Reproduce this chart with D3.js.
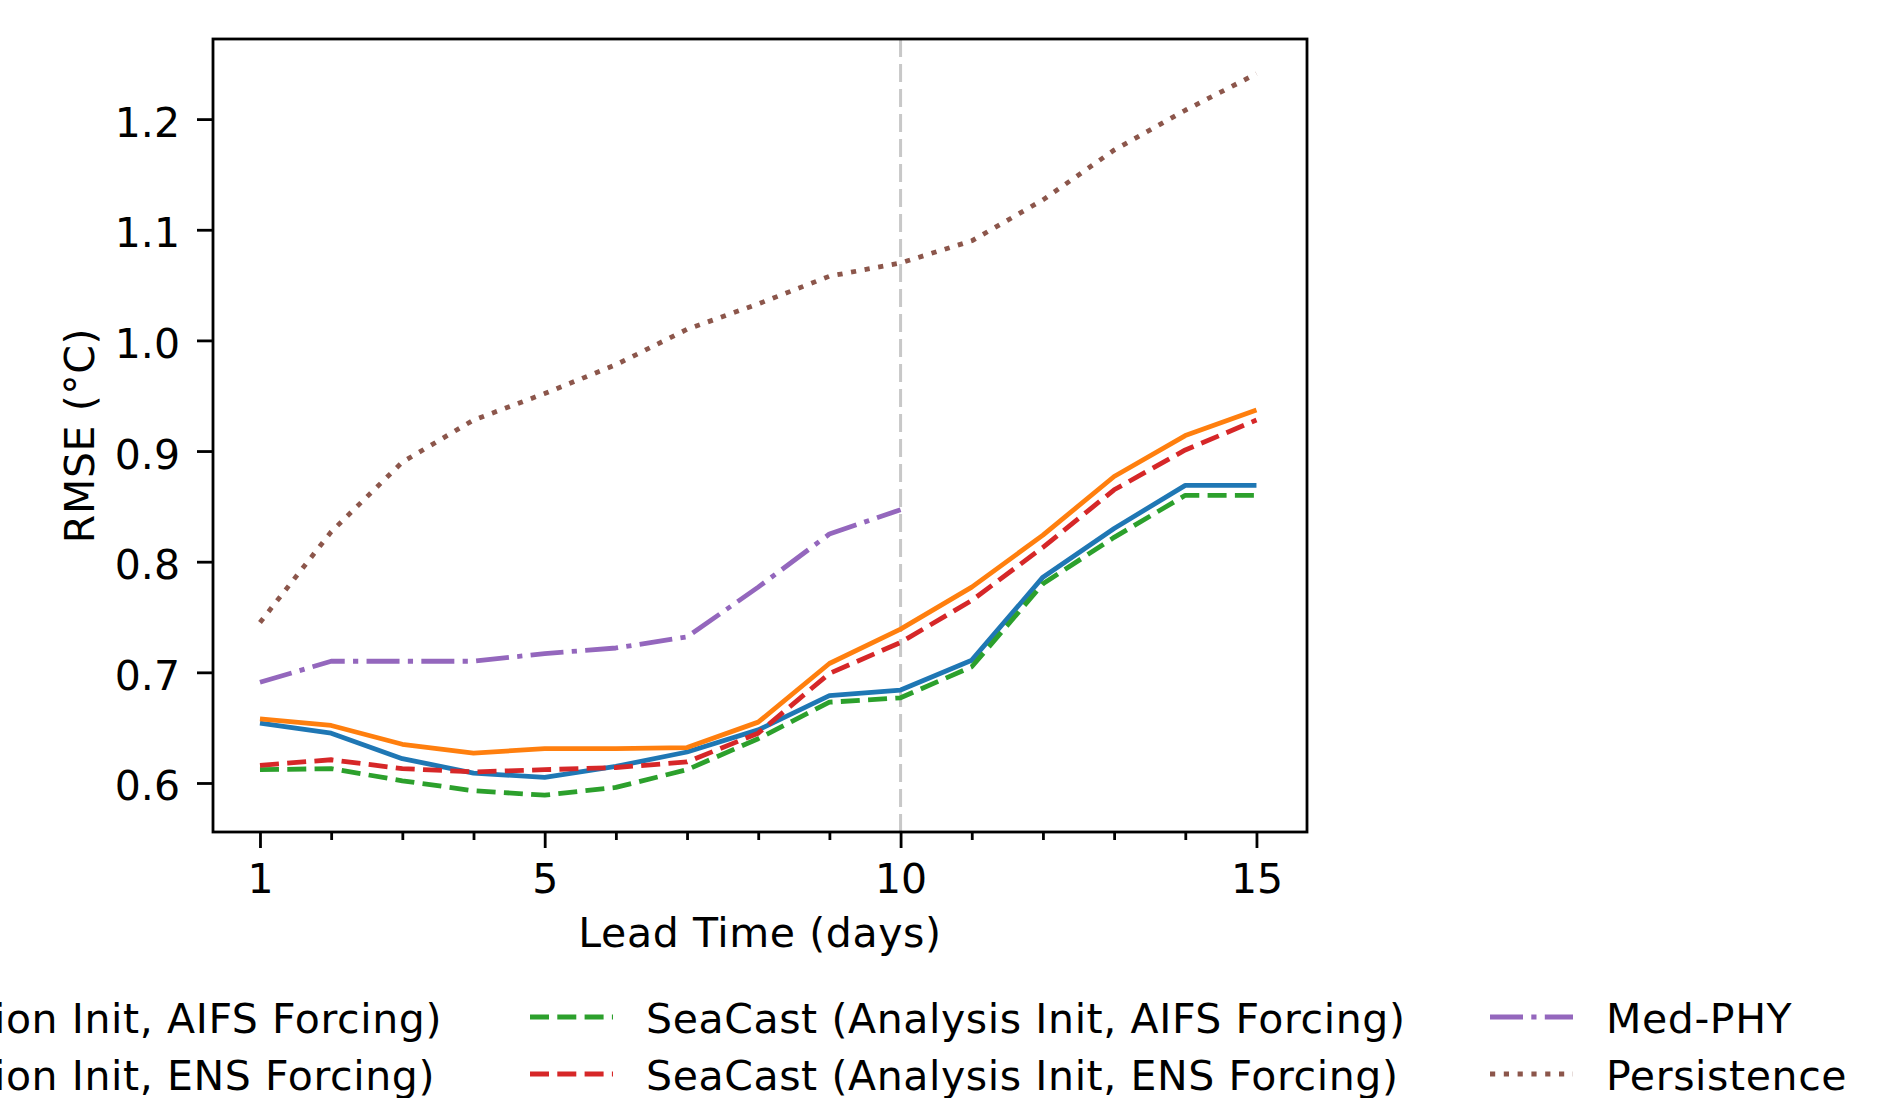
<!DOCTYPE html>
<html>
<head>
<meta charset="utf-8">
<script src="https://cdn.jsdelivr.net/npm/d3@7"></script>
<style>
  body { margin: 0; background: #fff; }
  svg text { font-family: "DejaVu Sans", sans-serif; fill: #000; }
  svg text.label, .legend text { letter-spacing: 0.6px; }
</style>
</head>
<body>
<svg id="chart" width="1890" height="1098"></svg>
<script>
// lead time (days)
var days = [1, 2, 3, 4, 5, 6, 7, 8, 9, 10, 11, 12, 13, 14, 15];

// RMSE (°C) per lead day
var simAifs      = [0.654, 0.645, 0.622, 0.609, 0.605, 0.615, 0.628, 0.648, 0.679, 0.684, 0.711, 0.786, 0.830, 0.869, 0.869];
var simEns       = [0.658, 0.652, 0.635, 0.627, 0.631, 0.631, 0.632, 0.655, 0.708, 0.739, 0.777, 0.824, 0.877, 0.914, 0.937];
var analysisAifs = [0.612, 0.613, 0.602, 0.593, 0.589, 0.596, 0.612, 0.640, 0.673, 0.677, 0.705, 0.780, 0.822, 0.860, 0.860];
var analysisEns  = [0.616, 0.621, 0.613, 0.610, 0.612, 0.614, 0.619, 0.645, 0.699, 0.727, 0.765, 0.813, 0.865, 0.901, 0.928];
var medPhy       = [0.691, 0.710, 0.710, 0.710, 0.717, 0.722, 0.732, 0.777, 0.825, 0.847];
var persistence  = [0.745, 0.827, 0.890, 0.928, 0.952, 0.978, 1.010, 1.033, 1.058, 1.070, 1.090, 1.127, 1.172, 1.208, 1.241];

var seriesNames = [
    "SeaCast (Simulation Init, AIFS Forcing)",
    "SeaCast (Simulation Init, ENS Forcing)",
    "SeaCast (Analysis Init, AIFS Forcing)",
    "SeaCast (Analysis Init, ENS Forcing)",
    "Med-PHY",
    "Persistence"
];

var yTicks = [0.6, 0.7, 0.8, 0.9, 1.0, 1.1, 1.2];
var xMajorTicks = [1, 5, 10, 15];
var splitDay = 10;

var lw = 4.8;
var series = [
    { name: seriesNames[0], values: simAifs,      color: '#1f77b4', dash: null },
    { name: seriesNames[1], values: simEns,       color: '#ff7f0e', dash: null },
    { name: seriesNames[2], values: analysisAifs, color: '#2ca02c', dash: '19,8.3' },
    { name: seriesNames[3], values: analysisEns,  color: '#d62728', dash: '19,8.3' },
    { name: seriesNames[4], values: medPhy,       color: '#9467bd', dash: '33,8.3,5.2,8.3' },
    { name: seriesNames[5], values: persistence,  color: '#8c564b', dash: '5.2,8.6' }
];

var margin = { top: 39, right: 583, bottom: 266, left: 213 },
    width = 1890 - margin.left - margin.right,
    height = 1098 - margin.top - margin.bottom,
    fontSize = 41;

var svg = d3.select('#chart');
var vis = svg.append('g')
    .attr('transform', 'translate(' + margin.left + ',' + margin.top + ')');

var x = d3.scaleLinear().domain([0.34, 15.71]).range([0, width]);
var y = d3.scaleLinear().domain([0.5557, 1.2724]).range([height, 0]);

// grey marker at day 10
vis.append('line')
    .attr('x1', x(splitDay)).attr('x2', x(splitDay))
    .attr('y1', 0).attr('y2', height)
    .attr('stroke', '#c8c8c8')
    .attr('stroke-width', 3)
    .attr('stroke-dasharray', '18,7');

var line = d3.line()
    .x(function(d, i) { return x(days[i]); })
    .y(function(d) { return y(d); });

vis.selectAll('path.series')
    .data(series)
  .enter().append('path')
    .attr('class', 'series')
    .attr('fill', 'none')
    .attr('stroke', function(s) { return s.color; })
    .attr('stroke-width', lw)
    .attr('stroke-linejoin', 'round')
    .attr('stroke-dasharray', function(s) { return s.dash; })
    .attr('d', function(s) { return line(s.values); });

// axes
var yAxis = vis.append('g')
    .call(d3.axisLeft(y).tickValues(yTicks).tickFormat(d3.format('.1f')).tickSize(16));
yAxis.select('.domain').remove();
yAxis.selectAll('line').attr('stroke', '#000').attr('stroke-width', 2.8);
yAxis.selectAll('text')
    .attr('x', -33)
    .attr('dy', 17)
    .attr('font-size', fontSize);
yAxis.attr('font-family', null).attr('font-size', null);

var xMinor = vis.append('g')
    .attr('transform', 'translate(0,' + height + ')')
    .call(d3.axisBottom(x)
        .tickValues(days.filter(function(d) { return xMajorTicks.indexOf(d) < 0; }))
        .tickFormat('').tickSize(8));
xMinor.select('.domain').remove();
xMinor.selectAll('line').attr('stroke', '#000').attr('stroke-width', 2.8);

var xAxis = vis.append('g')
    .attr('transform', 'translate(0,' + height + ')')
    .call(d3.axisBottom(x).tickValues(xMajorTicks).tickFormat(d3.format('d')).tickSize(16));
xAxis.select('.domain').remove();
xAxis.selectAll('line').attr('stroke', '#000').attr('stroke-width', 2.8);
xAxis.selectAll('text')
    .attr('y', 61)
    .attr('dy', 0)
    .attr('font-size', fontSize);
xAxis.attr('font-family', null).attr('font-size', null);

// frame
vis.append('rect')
    .attr('width', width)
    .attr('height', height)
    .attr('fill', 'none')
    .attr('stroke', '#000')
    .attr('stroke-width', 2.8);

// axis labels
vis.append('text')
    .attr('class', 'label')
    .attr('x', width / 2)
    .attr('y', 908)
    .attr('text-anchor', 'middle')
    .attr('font-size', fontSize)
    .text('Lead Time (days)');

svg.append('text')
    .attr('class', 'label')
    .attr('transform', 'translate(94,' + (margin.top + height / 2) + ') rotate(-90)')
    .attr('text-anchor', 'middle')
    .attr('font-size', fontSize)
    .text('RMSE (°C)');

// legend, 3 columns filled top to bottom
var handleLen = 83, handlePad = 33,
    rowBase = [1033, 1090],
    colHandleX = [null, 530, 1490];

var legend = svg.append('g').attr('class', 'legend');
var items = legend.selectAll('g.item')
    .data(series)
  .enter().append('g')
    .attr('class', 'item');

items.append('text')
    .attr('y', function(s, i) { return rowBase[i % 2]; })
    .attr('font-size', fontSize)
    .text(function(s) { return s.name; });

// first column runs off the left edge: its longest text ends at x=442
var firstWidth = items.filter(function(s, i) { return i === 0; }).select('text').node().getComputedTextLength();
colHandleX[0] = 442 - firstWidth - handlePad - handleLen;

items.select('text')
    .attr('x', function(s, i) { return colHandleX[Math.floor(i / 2)] + handleLen + handlePad; });

items.append('line')
    .attr('x1', function(s, i) { return colHandleX[Math.floor(i / 2)]; })
    .attr('x2', function(s, i) { return colHandleX[Math.floor(i / 2)] + handleLen; })
    .attr('y1', function(s, i) { return rowBase[i % 2] - 16; })
    .attr('y2', function(s, i) { return rowBase[i % 2] - 16; })
    .attr('stroke', function(s) { return s.color; })
    .attr('stroke-width', lw)
    .attr('stroke-dasharray', function(s) { return s.dash; });
</script>
</body>
</html>
